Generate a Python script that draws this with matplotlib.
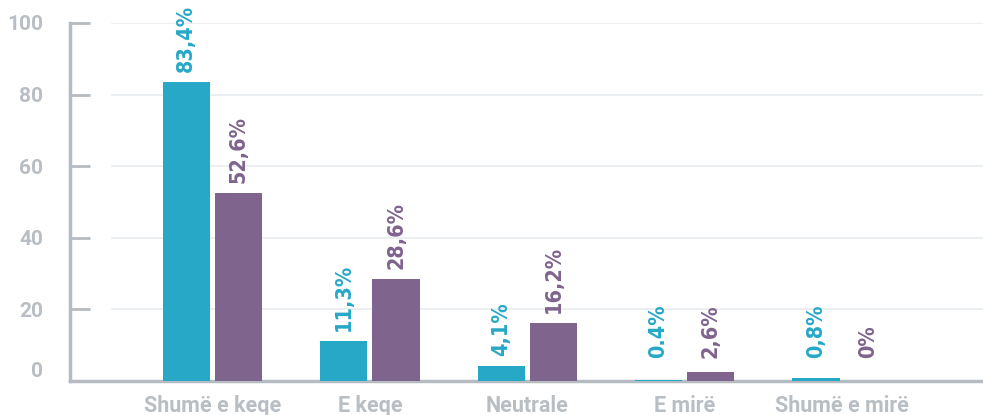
import numpy as np
import matplotlib
matplotlib.use("Agg")
import matplotlib.pyplot as plt

# data
categories = ["Shumë e keqe", "E keqe", "Neutrale", "E mirë", "Shumë e mirë"]
series_a = [83.4, 11.3, 4.1, 0.4, 0.8]
series_b = [52.6, 28.6, 16.2, 2.6, 0.0]
labels_a = ["83,4%", "11,3%", "4,1%", "0.4%", "0,8%"]
labels_b = ["52,6%", "28,6%", "16,2%", "2,6%", "0%"]
yticks = [0, 20, 40, 60, 80, 100]

cyan = "#27a8c7"
purple = "#7f648e"
axis_grey = "#b5bbc0"
text_grey = "#b8bec3"
grid_grey = "#e9ecef"

W, H = 983, 415
fig = plt.figure(figsize=(W / 100, H / 100), dpi=100)
ax = fig.add_axes([70 / W, (H - 381) / H, (W - 70) / W, (381 - 23) / H])

x = np.arange(len(categories))
bw = 0.3
off = 0.166
ax.bar(x - off, series_a, width=bw, color=cyan, zorder=3)
ax.bar(x + off, series_b, width=bw, color=purple, zorder=3)

ax.set_xlim(-0.905, 4.895)
ax.set_ylim(0, 100)

for yv in yticks[1:]:
    ax.axhline(yv, xmin=(112 - 70) / (W - 70), xmax=1, color=grid_grey, lw=1.2, zorder=1)

# value labels, rotated (condensed bold to mimic the narrow face)
px_per_unit = (381 - 23) / 100
for xs, vals, labs, col in [(x - off, series_a, labels_a, cyan), (x + off, series_b, labels_b, purple)]:
    for xi, v, lab in zip(xs, vals, labs):
        base = max(v + 10 / px_per_unit, 6.5)
        ax.text(xi, base, lab, rotation=90, ha="center", va="bottom",
                color=col, fontsize=15.5, family="DejaVu Sans", fontstretch="condensed",
                fontweight="bold", zorder=4, clip_on=False)

for s in ["top", "right"]:
    ax.spines[s].set_visible(False)
for s in ["left", "bottom"]:
    ax.spines[s].set_color(axis_grey)
    ax.spines[s].set_linewidth(2.5)

ax.set_yticks(yticks)
ax.set_yticklabels([str(t) for t in yticks])
ax.tick_params(axis="y", direction="in", length=14.4, width=2, color=axis_grey,
               pad=19.5, labelsize=15, labelcolor=text_grey)
for t in ax.get_yticklabels():
    t.set_fontfamily(["Roboto", "DejaVu Sans"])
    t.set_fontweight("bold")
ax.get_yticklabels()[0].set_va("bottom")

ax.set_xticks(x)
ax.set_xticklabels(categories)
ax.tick_params(axis="x", length=0, pad=10, labelsize=15.5, labelcolor=text_grey)
for t in ax.get_xticklabels():
    t.set_fontfamily(["Roboto", "DejaVu Sans"])
    t.set_fontweight("bold")

fig.savefig("out.png", dpi=100)
